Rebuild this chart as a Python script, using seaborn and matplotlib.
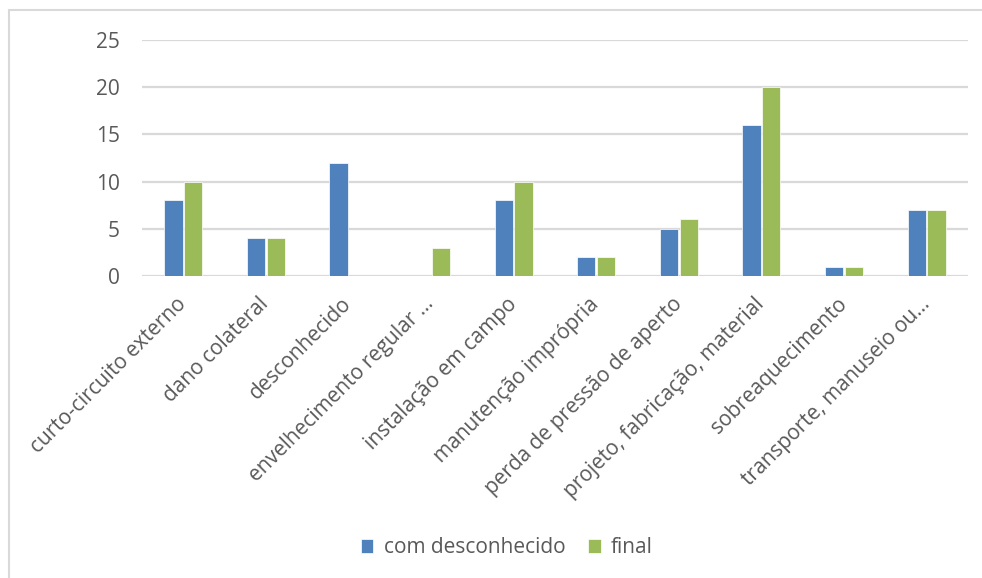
import matplotlib
matplotlib.use("Agg")
import matplotlib.pyplot as plt
import seaborn as sns
import pandas as pd
from matplotlib.patches import Rectangle

categories = [
    "curto-circuito externo",
    "dano colateral",
    "desconhecido",
    "envelhecimento regular …",
    "instalação em campo",
    "manutenção imprópria",
    "perda de pressão de aperto",
    "projeto, fabricação, material",
    "sobreaquecimento",
    "transporte, manuseio ou…",
]
com_desconhecido = [8, 4, 12, 0, 8, 2, 5, 16, 1, 7]
final = [10, 4, 0, 3, 10, 2, 6, 20, 1, 7]
series_names = ["com desconhecido", "final"]
yticks = [0, 5, 10, 15, 20, 25]

df = pd.DataFrame({
    "categoria": categories * 2,
    "valor": com_desconhecido + final,
    "serie": [series_names[0]] * len(categories) + [series_names[1]] * len(categories),
})

sns.set_theme(style="white")
plt.rcParams["font.family"] = ["Open Sans", "DejaVu Sans"]

text_color = "#595959"
grid_color = "#D9D9D9"

fig = plt.figure(figsize=(9.82, 5.78), dpi=100)
ax = fig.add_axes([0.1446, 0.5225, 0.8411, 0.4083])

sns.barplot(
    data=df, x="categoria", y="valor", hue="serie",
    palette=["#4F81BD", "#9BBB59"], saturation=1, width=0.48, gap=0.08,
    edgecolor="white", linewidth=0.5, ax=ax, legend=True, zorder=3,
)

ax.set_ylim(0, 25)
ax.set_xlim(-0.5, len(categories) - 0.5)
ax.set_yticks(yticks)
ax.set_yticklabels([str(v) for v in yticks], fontsize=15, color=text_color)
ax.yaxis.grid(True, color=grid_color, linewidth=1.6, zorder=0)
ax.set_axisbelow(True)
for s in ax.spines.values():
    s.set_visible(False)
ax.tick_params(axis="y", length=0, pad=16)
ax.tick_params(axis="x", length=0, pad=18)
ax.set_xlabel("")
ax.set_ylabel("")
ax.set_xticks(range(len(categories)))
ax.set_xticklabels(categories, rotation=45, ha="right", va="center",
                   rotation_mode="anchor", fontsize=15, color=text_color)

handles, labels = ax.get_legend_handles_labels()
ax.legend_.remove()
fig.legend(handles, labels, loc="center", bbox_to_anchor=(0.516, 0.052),
           ncol=2, frameon=False, fontsize=15, labelcolor=text_color,
           handlelength=0.6, handleheight=0.6, handletextpad=0.5,
           columnspacing=1.1)

# chart area border
fig.patches.append(Rectangle((9 / 982, -0.05), 1.2, 1 - 10 / 578 + 0.05,
                             transform=fig.transFigure, fill=False,
                             edgecolor="#D9D9D9", linewidth=1.5))

fig.savefig("out.png", dpi=100)
